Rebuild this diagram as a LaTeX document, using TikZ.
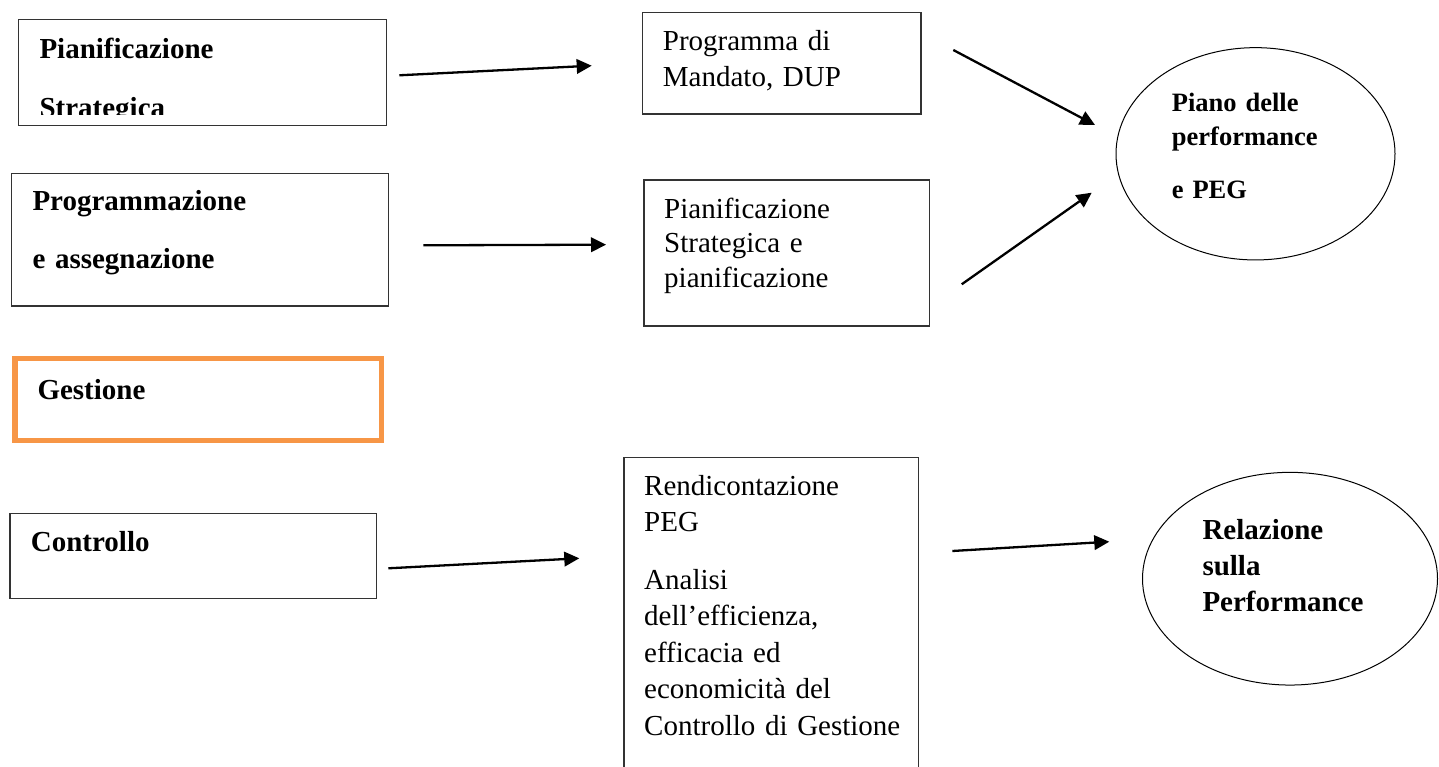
\documentclass[tikz,border=0pt]{standalone}
\usepackage{fontspec}
\setmainfont{Liberation Serif}
\usetikzlibrary{shapes.geometric,arrows.meta}
\definecolor{arancio}{HTML}{F79646}
\begin{document}
\begin{tikzpicture}[x=1pt,y=-1pt,
  box/.style={draw=black!80,line width=1.1pt,anchor=north west,inner sep=0pt,outer sep=0pt},
  cerchio/.style={draw,ellipse,line width=1pt,inner sep=0pt},
  testo/.style={anchor=base west,inner sep=0pt,text width=360pt,align=left,font=\fontsize{29}{36}\selectfont},
  grassetto/.style={testo,font=\fontsize{29}{36}\selectfont\bfseries},
  freccia/.style={line width=2.3pt,-{Triangle[length=15pt,width=14.5pt]}}]
  \useasboundingbox (0,0) rectangle (1439,767);
  \clip (0,0) rectangle (1439,767);
  % colonna di sinistra
  \node[box,minimum width=368pt,minimum height=106pt] (pianificazione) at (18.3,19.3) {};
  \begin{scope}
    \clip (18,19) rectangle (387,115);
    \node[grassetto] (pianificazioneT) at (39.3,58.3) {Pianificazione\\[23pt]Strategica};
  \end{scope}
  \node[box,minimum width=376.6pt,minimum height=132.7pt] (programmazione) at (11.7,173.3) {};
  \node[grassetto] (programmazioneT) at (32.3,210.7) {Programmazione\\[21.6pt]e assegnazione};
  \node[box,draw=arancio,line width=5.3pt,minimum width=366.7pt,minimum height=81.4pt] (gestione) at (15,358.8) {};
  \node[grassetto] (gestioneT) at (37.3,399.3) {Gestione};
  \node[box,minimum width=366.7pt,minimum height=85.4pt] (controllo) at (10,513.3) {};
  \node[grassetto] (controlloT) at (30.7,551.7) {Controllo};
  % colonna centrale
  \node[box,minimum width=278.7pt,minimum height=101.3pt] (mandato) at (642.3,12.7) {};
  \node[testo] (mandatoT) at (662.7,51) {Programma di\\Mandato, DUP};
  \node[box,minimum width=285.3pt,minimum height=146pt] (strategica) at (644,180) {};
  \node[testo,font=\fontsize{29}{34.5}\selectfont] (strategicaT) at (664,218.3) {Pianificazione\\Strategica e\\pianificazione};
  \node[box,minimum width=294.7pt,minimum height=330pt] (rendicontazione) at (624,457.3) {};
  \node[testo,font=\fontsize{29}{36.5}\selectfont] (rendicontazioneT) at (644,495) {Rendicontazione\\PEG\\[21pt]Analisi\\dell’efficienza,\\efficacia ed\\economicità del\\Controllo di Gestione};
  % colonna di destra
  \node[cerchio,minimum width=279pt,minimum height=212.3pt] (piano) at (1255.5,153.8) {};
  \node[grassetto,font=\fontsize{26.5}{34}\selectfont\bfseries] (pianoT) at (1171.7,111.7) {Piano delle\\performance\\[19.3pt]e PEG};
  \node[cerchio,minimum width=295pt,minimum height=212.7pt] (relazione) at (1290,578.7) {};
  \node[grassetto,font=\fontsize{29}{36.4}\selectfont\bfseries] (relazioneT) at (1202.3,539) {Relazione\\sulla\\Performance};
  % frecce
  \coordinate (a1) at (399.3,75.3); \coordinate (b1) at (591.7,65.7);
  \coordinate (a2) at (423.3,245.3); \coordinate (b2) at (606,244.7);
  \coordinate (a3) at (388.3,568.3); \coordinate (b3) at (579.3,558.3);
  \coordinate (a4) at (953.3,50);   \coordinate (b4) at (1095,125);
  \coordinate (a5) at (961.7,284.3); \coordinate (b5) at (1091.7,192.7);
  \coordinate (a6) at (952.3,551);  \coordinate (b6) at (1109.3,541.7);
  \foreach \i in {1,...,6}
    \draw[freccia] (a\i) -- (b\i);
\end{tikzpicture}
\end{document}
